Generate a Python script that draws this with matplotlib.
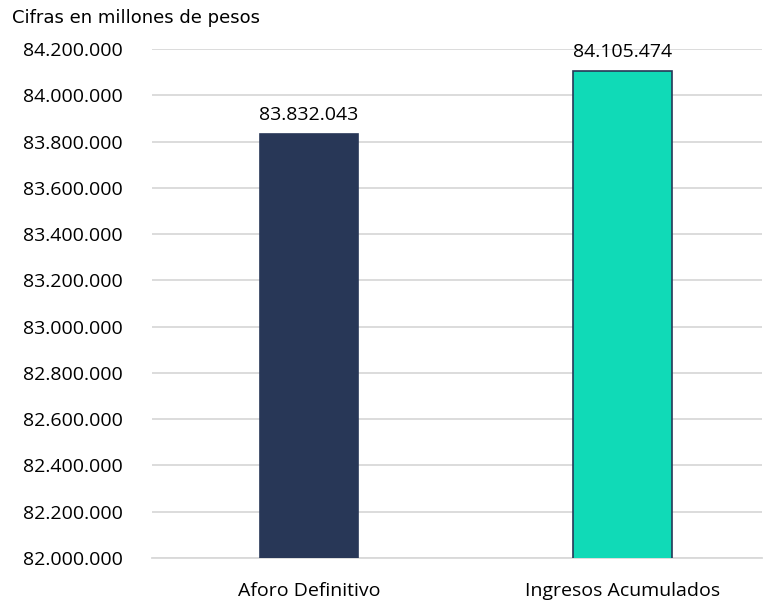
import matplotlib
matplotlib.use("Agg")
import matplotlib.pyplot as plt
from matplotlib.ticker import FuncFormatter

categories = ["Aforo Definitivo", "Ingresos Acumulados"]
values = [83832043, 84105474]
colors = ["#283757", "#10DAB7"]
edgecolors = ["#283757", "#283757"]
y_ticks = list(range(82000000, 84200001, 200000))

def fmt(v):
    return f"{int(round(v)):,}".replace(",", ".")

fig = plt.figure(figsize=(7.63, 6.02), dpi=100)
ax = fig.add_axes([0.1992, 0.0731, 0.7995, 0.8455])

x = list(range(len(categories)))
bars = ax.bar(x, values, width=0.315, color=colors, edgecolor=edgecolors, linewidth=1.2, zorder=3)
ax.set_ylim(82000000, 84200000)
ax.set_xlim(-0.5, 1.443)
ax.set_yticks(y_ticks)
ax.yaxis.set_major_formatter(FuncFormatter(lambda v, p: fmt(v)))
ax.set_xticks(x)
ax.set_xticklabels(categories)
ax.grid(axis="y", color="#d9d9d9", linewidth=1.3, zorder=0)
for s in ["top", "right", "left"]:
    ax.spines[s].set_visible(False)
ax.spines["bottom"].set_color("#d9d9d9")
ax.spines["bottom"].set_linewidth(1.3)
ax.tick_params(axis="both", length=0, labelsize=14, colors="black")
ax.tick_params(axis="y", pad=21)
ax.tick_params(axis="x", pad=17)
for lab in ax.get_xticklabels() + ax.get_yticklabels():
    lab.set_family("Open Sans")
for b, v in zip(bars, values):
    ax.annotate(fmt(v), (b.get_x() + b.get_width() / 2, v), xytext=(0, 7),
                textcoords="offset points", ha="center", va="bottom",
                fontsize=14, family="Open Sans")

fig.text(12 / 763, 1 - 18 / 602, "Cifras en millones de pesos", fontsize=13,
         family="DejaVu Sans", va="center", ha="left")

fig.savefig("out.png", dpi=100)
